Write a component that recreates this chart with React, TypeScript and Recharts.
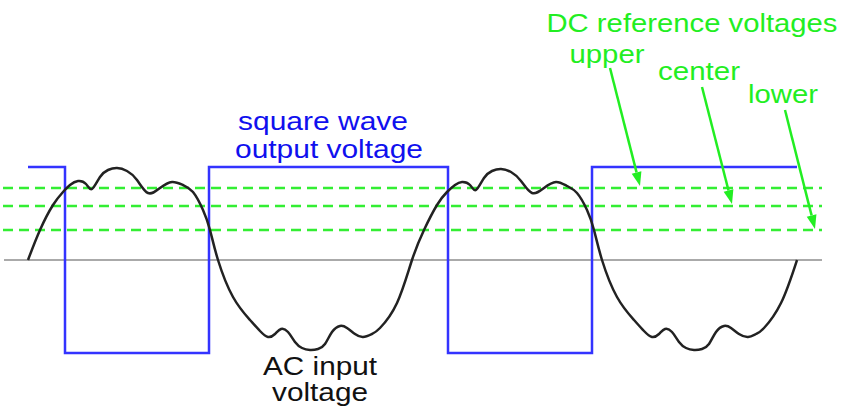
import { ComposedChart, Line, XAxis, YAxis, ReferenceLine, ReferenceDot } from 'recharts'

// time axis and input voltage (zero line = 0)
const acTime = [
  28, 40, 53, 63, 70, 78, 86, 92, 100, 108, 117, 127, 137, 148, 160, 172, 183, 193, 203, 210, 218,
  233, 250, 260, 268, 275, 281, 288, 295, 302, 310, 318, 325, 332, 340, 347, 355, 363, 372, 380, 397, 412,
  424, 437, 447, 455, 462, 470, 476, 484, 492, 501, 511, 521, 532, 544, 556, 567, 577, 587, 594, 602,
  617, 634, 644, 652, 659, 665, 672, 679, 686, 694, 702, 709, 716, 724, 731, 739, 748, 756, 764, 781, 797,
]
const acVolts = [
  0, 30, 55, 68, 75, 79, 76, 71, 83, 90, 92, 89, 80, 67, 72, 78, 75, 68, 50, 30, 0,
  -37, -60, -71, -77, -74, -69, -72, -82, -88, -90, -89, -84, -72, -66, -68, -74, -77, -74, -68, -43, 0,
  30, 55, 68, 75, 78, 75, 70, 82, 89, 91, 88, 79, 67, 72, 78, 74, 67, 50, 30, 0,
  -37, -60, -71, -77, -74, -69, -72, -82, -88, -90, -89, -84, -72, -66, -68, -74, -77, -74, -68, -43, 0,
]

// comparator output transitions
const sqTime = [28, 65, 65, 209, 209, 448, 448, 592, 592, 797]
const sqVolts = [93, 93, -93, -93, 93, 93, -93, -93, 93, 93]

// DC reference levels
const refLevels = [
  { name: 'upper', v: 72 },
  { name: 'center', v: 54 },
  { name: 'lower', v: 30 },
]
const refStart = 3
const refEnd = 822

// arrows: label end -> tip on reference line
const arrowFrom = [
  { x: 610, y: 192 },
  { x: 702, y: 173 },
  { x: 785, y: 150 },
]
const arrowTo = [
  { x: 640, y: 74 },
  { x: 732, y: 56 },
  { x: 815, y: 31 },
]

const labels = [
  { text: 'square wave', x: 323, y: 130, w: 170, color: '#1010ee' },
  { text: 'output voltage', x: 329, y: 102, w: 188, color: '#1010ee' },
  { text: 'AC input', x: 320, y: -115, w: 114, color: '#111' },
  { text: 'voltage', x: 320, y: -141, w: 96, color: '#111' },
  { text: 'DC reference voltages', x: 692, y: 228, w: 291, color: '#22ee22' },
  { text: 'upper', x: 607, y: 197, w: 75, color: '#22ee22' },
  { text: 'center', x: 699, y: 180, w: 82, color: '#22ee22' },
  { text: 'lower', x: 783, y: 157, w: 70, color: '#22ee22' },
]

const acData = acTime.map((t, i) => ({ t, v: acVolts[i] }))
const sqData = sqTime.map((t, i) => ({ t, v: sqVolts[i] }))

function Arrow(props: any) {
  const { x1, y1, x2, y2 } = props
  if (x1 == null) return null
  const dx = x2 - x1
  const dy = y2 - y1
  const len = Math.sqrt(dx * dx + dy * dy)
  const ux = dx / len
  const uy = dy / len
  const hl = 14
  const hw = 5
  const bx = x2 - ux * hl
  const by = y2 - uy * hl
  return (
    <g>
      <line x1={x1} y1={y1} x2={bx} y2={by} stroke="#22ee22" strokeWidth={2.5} />
      <polygon
        points={`${x2},${y2} ${bx - uy * hw},${by + ux * hw} ${bx + uy * hw},${by - ux * hw}`}
        fill="#22ee22"
      />
    </g>
  )
}

export default function App() {
  return (
    <div style={{ position: 'absolute', left: 0, top: 0, background: '#fff' }}>
      <ComposedChart width={846} height={410} margin={{ top: 0, right: 0, bottom: 0, left: 0 }}>
        <XAxis type="number" dataKey="t" domain={[0, 846]} hide allowDataOverflow />
        <YAxis type="number" domain={[-150, 260]} hide allowDataOverflow />
        <ReferenceLine
          segment={[{ x: 4, y: 0 }, { x: refEnd, y: 0 }]}
          stroke="#aaaaaa"
          strokeWidth={2}
        />
        {refLevels.map(r => (
          <ReferenceLine
            key={r.name}
            segment={[{ x: refStart, y: r.v }, { x: refEnd, y: r.v }]}
            stroke="#33ee33"
            strokeWidth={2.5}
            strokeDasharray="10 6"
          />
        ))}
        <Line
          data={sqData}
          dataKey="v"
          type="linear"
          stroke="#3333ff"
          strokeWidth={2.5}
          dot={false}
          activeDot={false}
          isAnimationActive={false}
        />
        <Line
          data={acData}
          dataKey="v"
          type="natural"
          stroke="#222"
          strokeWidth={2.5}
          dot={false}
          activeDot={false}
          isAnimationActive={false}
        />
        {arrowFrom.map((a, i) => (
          <ReferenceLine key={i} segment={[a, arrowTo[i]]} shape={Arrow} />
        ))}
        {labels.map(l => (
          <ReferenceDot
            key={l.text}
            x={l.x}
            y={l.y}
            r={0}
            shape={(p: any) => (
              <text
                x={p.cx}
                y={p.cy}
                textAnchor="middle"
                fontFamily="Liberation Sans, Arial, sans-serif"
                fontSize={25}
                fill={l.color}
                textLength={l.w}
                lengthAdjust="spacingAndGlyphs"
              >
                {l.text}
              </text>
            )}
          />
        ))}
      </ComposedChart>
    </div>
  )
}
